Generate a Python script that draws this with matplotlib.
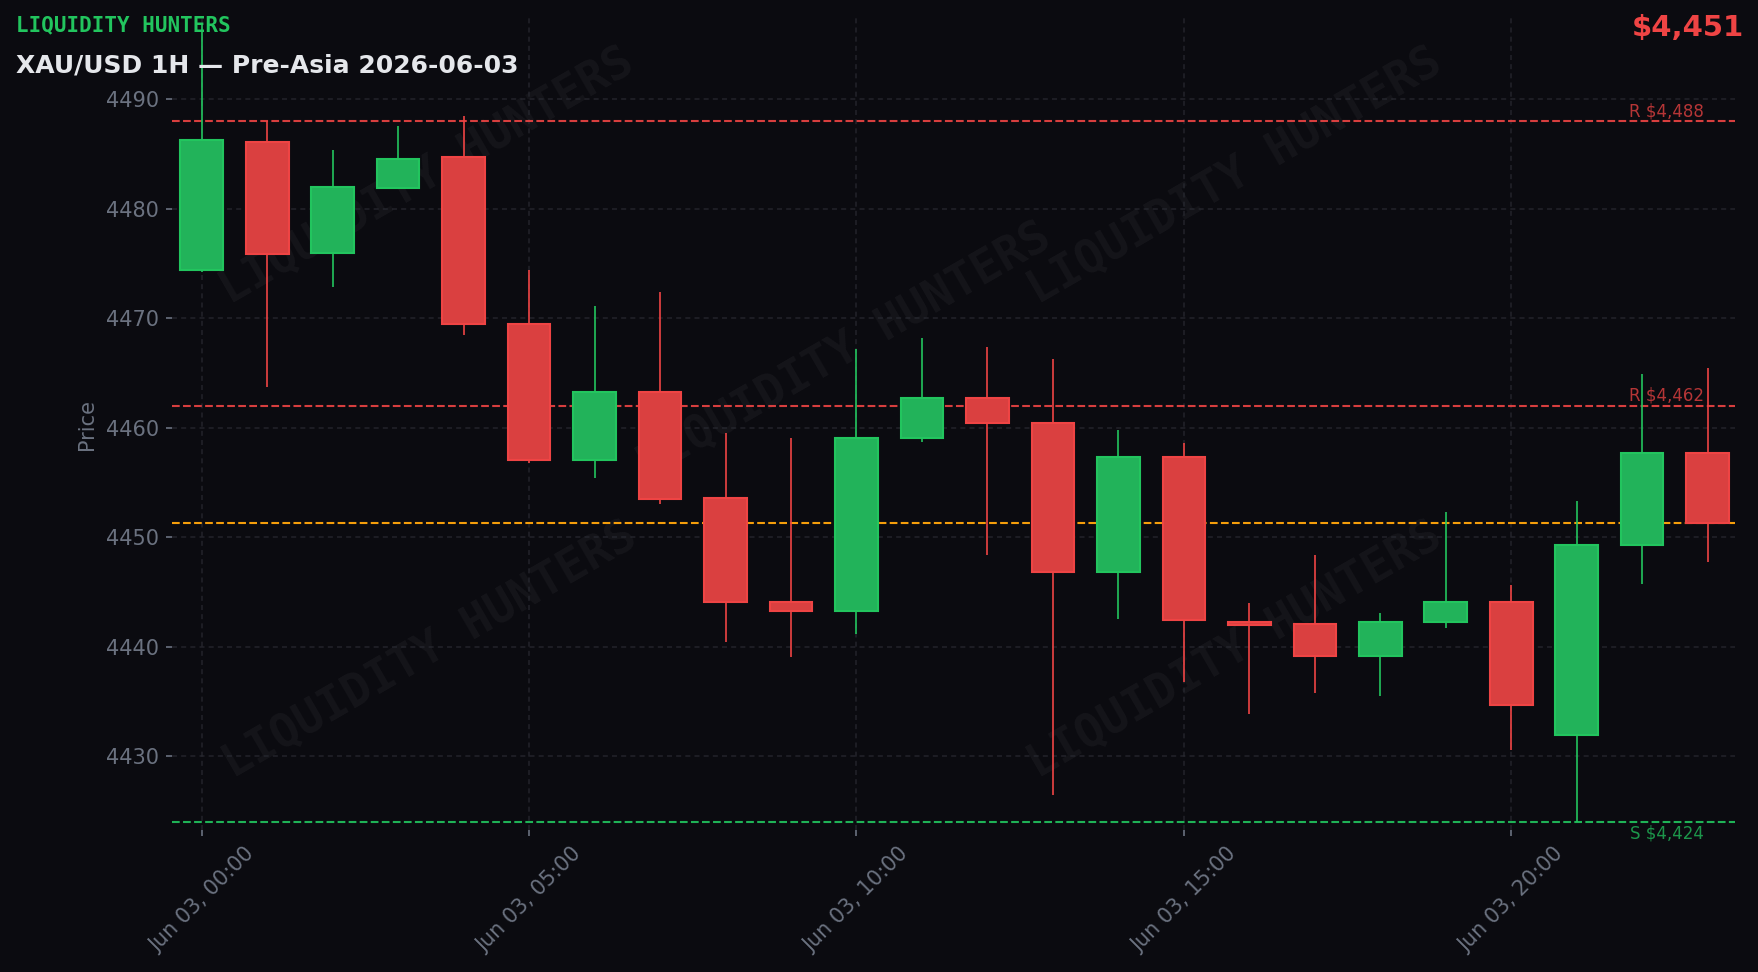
import pandas as pd
import matplotlib
matplotlib.use("Agg")
import matplotlib.pyplot as plt
import matplotlib.dates as mdates

# velas de 1h, 03/06
horas = pd.date_range("2026-06-03 00:00", periods=24, freq="h")
aberturas = [4474.4, 4486.1, 4476.0, 4481.9, 4484.7, 4469.5, 4457.1, 4463.3,
             4453.6, 4444.1, 4443.3, 4459.1, 4462.7, 4460.4, 4446.8, 4457.3,
             4442.3, 4442.1, 4439.2, 4442.3, 4444.1, 4431.9, 4449.3, 4457.7]
maximas = [4497.0, 4488.0, 4485.4, 4487.6, 4488.5, 4474.4, 4471.1, 4472.4,
           4459.5, 4459.1, 4467.2, 4468.2, 4467.4, 4466.3, 4459.8, 4458.6,
           4444.0, 4448.4, 4443.1, 4452.3, 4445.6, 4453.3, 4464.9, 4465.5]
minimas = [4474.2, 4463.7, 4472.9, 4481.9, 4468.5, 4456.8, 4455.4, 4453.0,
           4440.4, 4439.1, 4441.2, 4458.7, 4448.4, 4426.5, 4442.5, 4436.8,
           4433.9, 4435.8, 4435.5, 4441.7, 4430.6, 4424.0, 4445.7, 4447.7]
fechamentos = [4486.3, 4475.9, 4482.0, 4484.6, 4469.5, 4457.1, 4463.3, 4453.5,
               4444.1, 4443.3, 4459.1, 4462.7, 4460.4, 4446.8, 4457.3, 4442.4,
               4442.0, 4439.2, 4442.3, 4444.1, 4434.7, 4449.3, 4457.7, 4451.3]

resistencias = [4488, 4462]
suportes = [4424]
preco_atual = fechamentos[-1]

titulo = "XAU/USD 1H — Pre-Asia 2026-06-03"
marca = "LIQUIDITY HUNTERS"

fundo = "#0b0b10"
verde = "#22c55e"
verde_corpo = "#22b35a"
vermelho = "#ef4444"
vermelho_corpo = "#da4040"
cinza = "#6b7280"

fig = plt.figure(figsize=(11.72, 6.48), dpi=150, facecolor=fundo)
ax = fig.add_axes([0.098, 0.146, 0.889, 0.835])
ax.set_facecolor(fundo)

x = mdates.date2num(horas)
hora = 1 / 24
largura = 0.65 * hora

for i in range(len(x)):
    o, h, l, c = aberturas[i], maximas[i], minimas[i], fechamentos[i]
    if c >= o:
        cor, corpo = verde, verde_corpo
    else:
        cor, corpo = vermelho, vermelho_corpo
    ax.vlines(x[i], l, h, color=cor, linewidth=0.8, zorder=2)
    base = min(o, c)
    altura = max(abs(c - o), 0.25)
    ax.bar(x[i], altura, bottom=base, width=largura, color=corpo,
           edgecolor=cor, linewidth=1.0, zorder=3)

# niveis
for r in resistencias:
    ax.axhline(r, color=vermelho, linestyle="--", linewidth=1.0, alpha=0.9, zorder=1)
    ax.text(0.98, r + 0.1, f"R ${r:,}", transform=ax.get_yaxis_transform(),
            ha="right", va="bottom", color=vermelho, alpha=0.75, fontsize=8)
for s in suportes:
    ax.axhline(s, color=verde, linestyle="--", linewidth=1.0, alpha=0.9, zorder=1)
    ax.text(0.98, s - 0.2, f"S ${s:,}", transform=ax.get_yaxis_transform(),
            ha="right", va="top", color=verde, alpha=0.75, fontsize=8)
ax.axhline(preco_atual, color="#f59e0b", linestyle="--", linewidth=1.0, zorder=1)

# marca d'agua
for px, py in [(0.163, 0.805), (0.165, 0.221), (0.43, 0.59), (0.68, 0.805), (0.68, 0.221)]:
    ax.text(px, py, marca, transform=ax.transAxes, rotation=30, ha="center",
            va="center", fontsize=22, family="DejaVu Sans Mono", fontweight="bold",
            color="white", alpha=0.045, zorder=0)

ax.set_xlim(x[0] - 0.45 * hora, x[-1] + 0.42 * hora)
ax.set_ylim(min(minimas) - 0.75, max(maximas) + 0.4)

ax.xaxis.set_major_locator(mdates.HourLocator(byhour=[0, 5, 10, 15, 20]))
ax.xaxis.set_major_formatter(mdates.DateFormatter("%b %d, %H:%M"))
ax.yaxis.get_major_formatter().set_useOffset(False)
plt.setp(ax.get_xticklabels(), rotation=45)

ax.tick_params(colors=cinza, labelsize=10, length=3)
ax.grid(True, color="#2a2b33", linestyle=(0, (3, 2.5)), linewidth=0.8, alpha=0.7)
ax.set_axisbelow(True)
for lado in ax.spines.values():
    lado.set_visible(False)
ax.set_ylabel("Price", color=cinza, fontsize=10)

fig.text(0.009, 0.974, marca, color=verde, fontsize=10, family="DejaVu Sans Mono",
         fontweight="bold", va="center", ha="left")
fig.text(0.009, 0.933, titulo, color="#e5e7eb", fontsize=12, fontweight="bold",
         va="center", ha="left")
cor_preco = verde if fechamentos[-1] >= aberturas[-1] else vermelho
fig.text(0.992, 0.971, f"${preco_atual:,.0f}", color=cor_preco, fontsize=14,
         fontweight="bold", va="center", ha="right")

fig.savefig("out.png", dpi=150, facecolor=fundo)
